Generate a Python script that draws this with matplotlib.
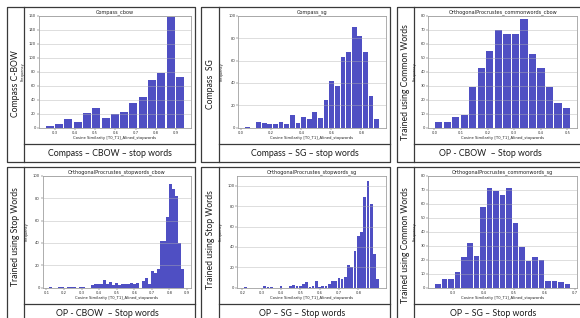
import numpy as np
import matplotlib
matplotlib.use('Agg')
import matplotlib.pyplot as plt

W, H = 580, 318
BAR = '#0504aa'

# ---------------- data ----------------
titles = ['Compass_cbow', 'Compass_sg', 'OrthogonalProcrustes_commonwords_cbow',
          'OrthogonalProcrustes_stopwords_cbow', 'OrthogonalProcrustes_stopwords_sg',
          'OrthogonalProcrustes_commonwords_sg']
side_labels = ['Compass C-BOW', 'Compass  SG', 'Trained using Common Words',
               'Trained using Stop Words', 'Trained using Stop Words', 'Trained using Common Words']
captions = ['Compass \u2013 CBOW \u2013 stop words', 'Compass \u2013 SG \u2013 stop words',
            'OP - CBOW  \u2013 Stop words', 'OP - CBOW  \u2013 Stop words',
            'OP \u2013 SG \u2013 Stop words', 'OP \u2013 SG \u2013 Stop words']
xlabel_text = 'Cosine Similarity [T0_T1]_Alined_stopwords'
ylabel_text = 'Frequency'

# histogram ranges (first/last bin edge) and bin counts
cbow_range = (0.252, 0.943)
cbow_counts = [3, 6, 12, 8, 21, 28, 14, 20, 23, 35, 44, 68, 78, 158, 73]

sg_range = (0.0226, 0.9205)
sg_counts = [1, 0, 5, 4, 3, 3, 5, 3, 11, 4, 10, 8, 14, 9, 25, 42, 37, 63, 68, 90, 82, 68, 28, 8]

op_cw_cbow_range = (0.0, 0.513)
op_cw_cbow_counts = [4, 4, 8, 9, 29, 43, 55, 70, 67, 67, 78, 53, 43, 29, 18, 14]

op_sw_cbow_range = (0.1156, 0.8844)
op_sw_cbow_counts = [1, 0, 0, 1, 1, 0, 1, 1, 1, 0, 1, 1, 0, 0, 2, 3, 3, 3, 7, 3, 5, 2, 4, 2,
                     3, 3, 3, 4, 3, 4, 0, 6, 9, 3, 15, 13, 17, 42, 42, 63, 93, 88, 82, 40, 17]

op_sw_sg_range = (0.2073, 0.9072)
op_sw_sg_counts = [1, 0, 0, 0, 0, 0, 2, 1, 1, 0, 0, 2, 0, 0, 2, 3, 2, 2, 4, 6, 1, 2, 7, 1,
                   2, 2, 4, 7, 7, 10, 9, 11, 22, 20, 36, 51, 55, 89, 105, 82, 33, 9]

op_cw_sg_range = (0.239, 0.686)
op_cw_sg_counts = [3, 6, 6, 11, 22, 32, 23, 58, 71, 69, 66, 71, 46, 29, 19, 22, 20, 5, 5, 4, 3]

xticks_list = [[0.3, 0.4, 0.5, 0.6, 0.7, 0.8, 0.9],
               [0.0, 0.2, 0.4, 0.6, 0.8],
               [0.0, 0.1, 0.2, 0.3, 0.4, 0.5],
               [0.1, 0.2, 0.3, 0.4, 0.5, 0.6, 0.7, 0.8, 0.9],
               [0.2, 0.3, 0.4, 0.5, 0.6, 0.7, 0.8],
               [0.3, 0.4, 0.5, 0.6, 0.7]]
yticks_list = [list(range(0, 161, 20)), list(range(0, 101, 20)), list(range(0, 81, 10)),
               list(range(0, 101, 20)), list(range(0, 101, 20)), list(range(0, 81, 10))]

ranges = [cbow_range, sg_range, op_cw_cbow_range, op_sw_cbow_range, op_sw_sg_range, op_cw_sg_range]
counts_all = [cbow_counts, sg_counts, op_cw_cbow_counts, op_sw_cbow_counts, op_sw_sg_counts, op_cw_sg_counts]

# ---------------- layout (pixels) ----------------
boxes_x = [(7, 24, 195), (201, 219, 390), (397, 414, 590)]
rows_y = [(7, 144, 162), (167, 304, 322)]
axes_px = [(39, 15.7, 190.7, 127.7), (238.3, 15.7, 385.7, 127.7), (428.3, 15.7, 577, 127.7),
           (42.7, 175.7, 190.7, 287.7), (237.3, 175.7, 385.7, 287.7), (428.3, 175.7, 577, 287.7)]
side_y = [84, 84, 82, 237, 240, 245]
cap_x = [110, 305, 490, 107, 302, 493]

plt.rcParams['font.family'] = ['DejaVu Sans']
fig = plt.figure(figsize=(W / 100, H / 100), dpi=100)
fig.patch.set_facecolor('white')

bg = fig.add_axes([0, 0, 1, 1])
bg.set_xlim(0, W)
bg.set_ylim(H, 0)
bg.axis('off')

LC = '#3a3a3a'
LW = 0.9
for r, (y0, yc, y1) in enumerate(rows_y):
    for c, (x0, xi, x1) in enumerate(boxes_x):
        bg.plot([x0, x1, x1, x0, x0], [y0, y0, y1, y1, y0], color=LC, lw=LW, solid_capstyle='butt')
        bg.plot([xi, xi], [y0, y1], color=LC, lw=LW)
        bg.plot([xi, x1], [yc, yc], color=LC, lw=LW)
        i = r * 3 + c
        bg.text((x0 + xi) / 2 + 0.5, side_y[i], side_labels[i], rotation=90, ha='center', va='center',
                fontsize=6.2, family=['Lato', 'DejaVu Sans'], color='#1a1a1a')
        bg.text(cap_x[i], (yc + y1) / 2, captions[i], ha='center', va='center',
                fontsize=6.3, family=['Lato', 'DejaVu Sans'], color='#1a1a1a')

for i in range(6):
    l, t, rr, b = axes_px[i]
    ax = fig.add_axes([l / W, 1 - b / H, (rr - l) / W, (b - t) / H])
    lo, hi = ranges[i]
    cnt = np.array(counts_all[i], dtype=float)
    edges = np.linspace(lo, hi, len(cnt) + 1)
    centers = (edges[:-1] + edges[1:]) / 2
    n, _, _ = ax.hist(centers, bins=edges, weights=cnt, color=BAR, alpha=0.7, rwidth=0.85)
    maxfreq = n.max()
    ax.set_ylim(top=np.ceil(maxfreq / 10) * 10 if maxfreq % 10 else maxfreq + 10)
    ax.grid(axis='y', alpha=0.75, lw=0.4)
    ax.set_xticks(xticks_list[i])
    ax.set_xticklabels([f'{v:.1f}' for v in xticks_list[i]])
    ax.set_yticks(yticks_list[i])
    ax.tick_params(labelsize=2.7, length=1.2, width=0.3, pad=1, colors='#333333')
    for s in ax.spines.values():
        s.set_color('#a0a0a0')
        s.set_linewidth(0.6)
    ax.set_title(titles[i], fontsize=3.6, pad=1.5, color='#222222')
    ax.set_xlabel(xlabel_text, fontsize=2.7, labelpad=1, color='#222222')
    ax.set_ylabel(ylabel_text, fontsize=2.6, labelpad=3, color='#222222')

fig.savefig('out.png', dpi=100, facecolor='white')
